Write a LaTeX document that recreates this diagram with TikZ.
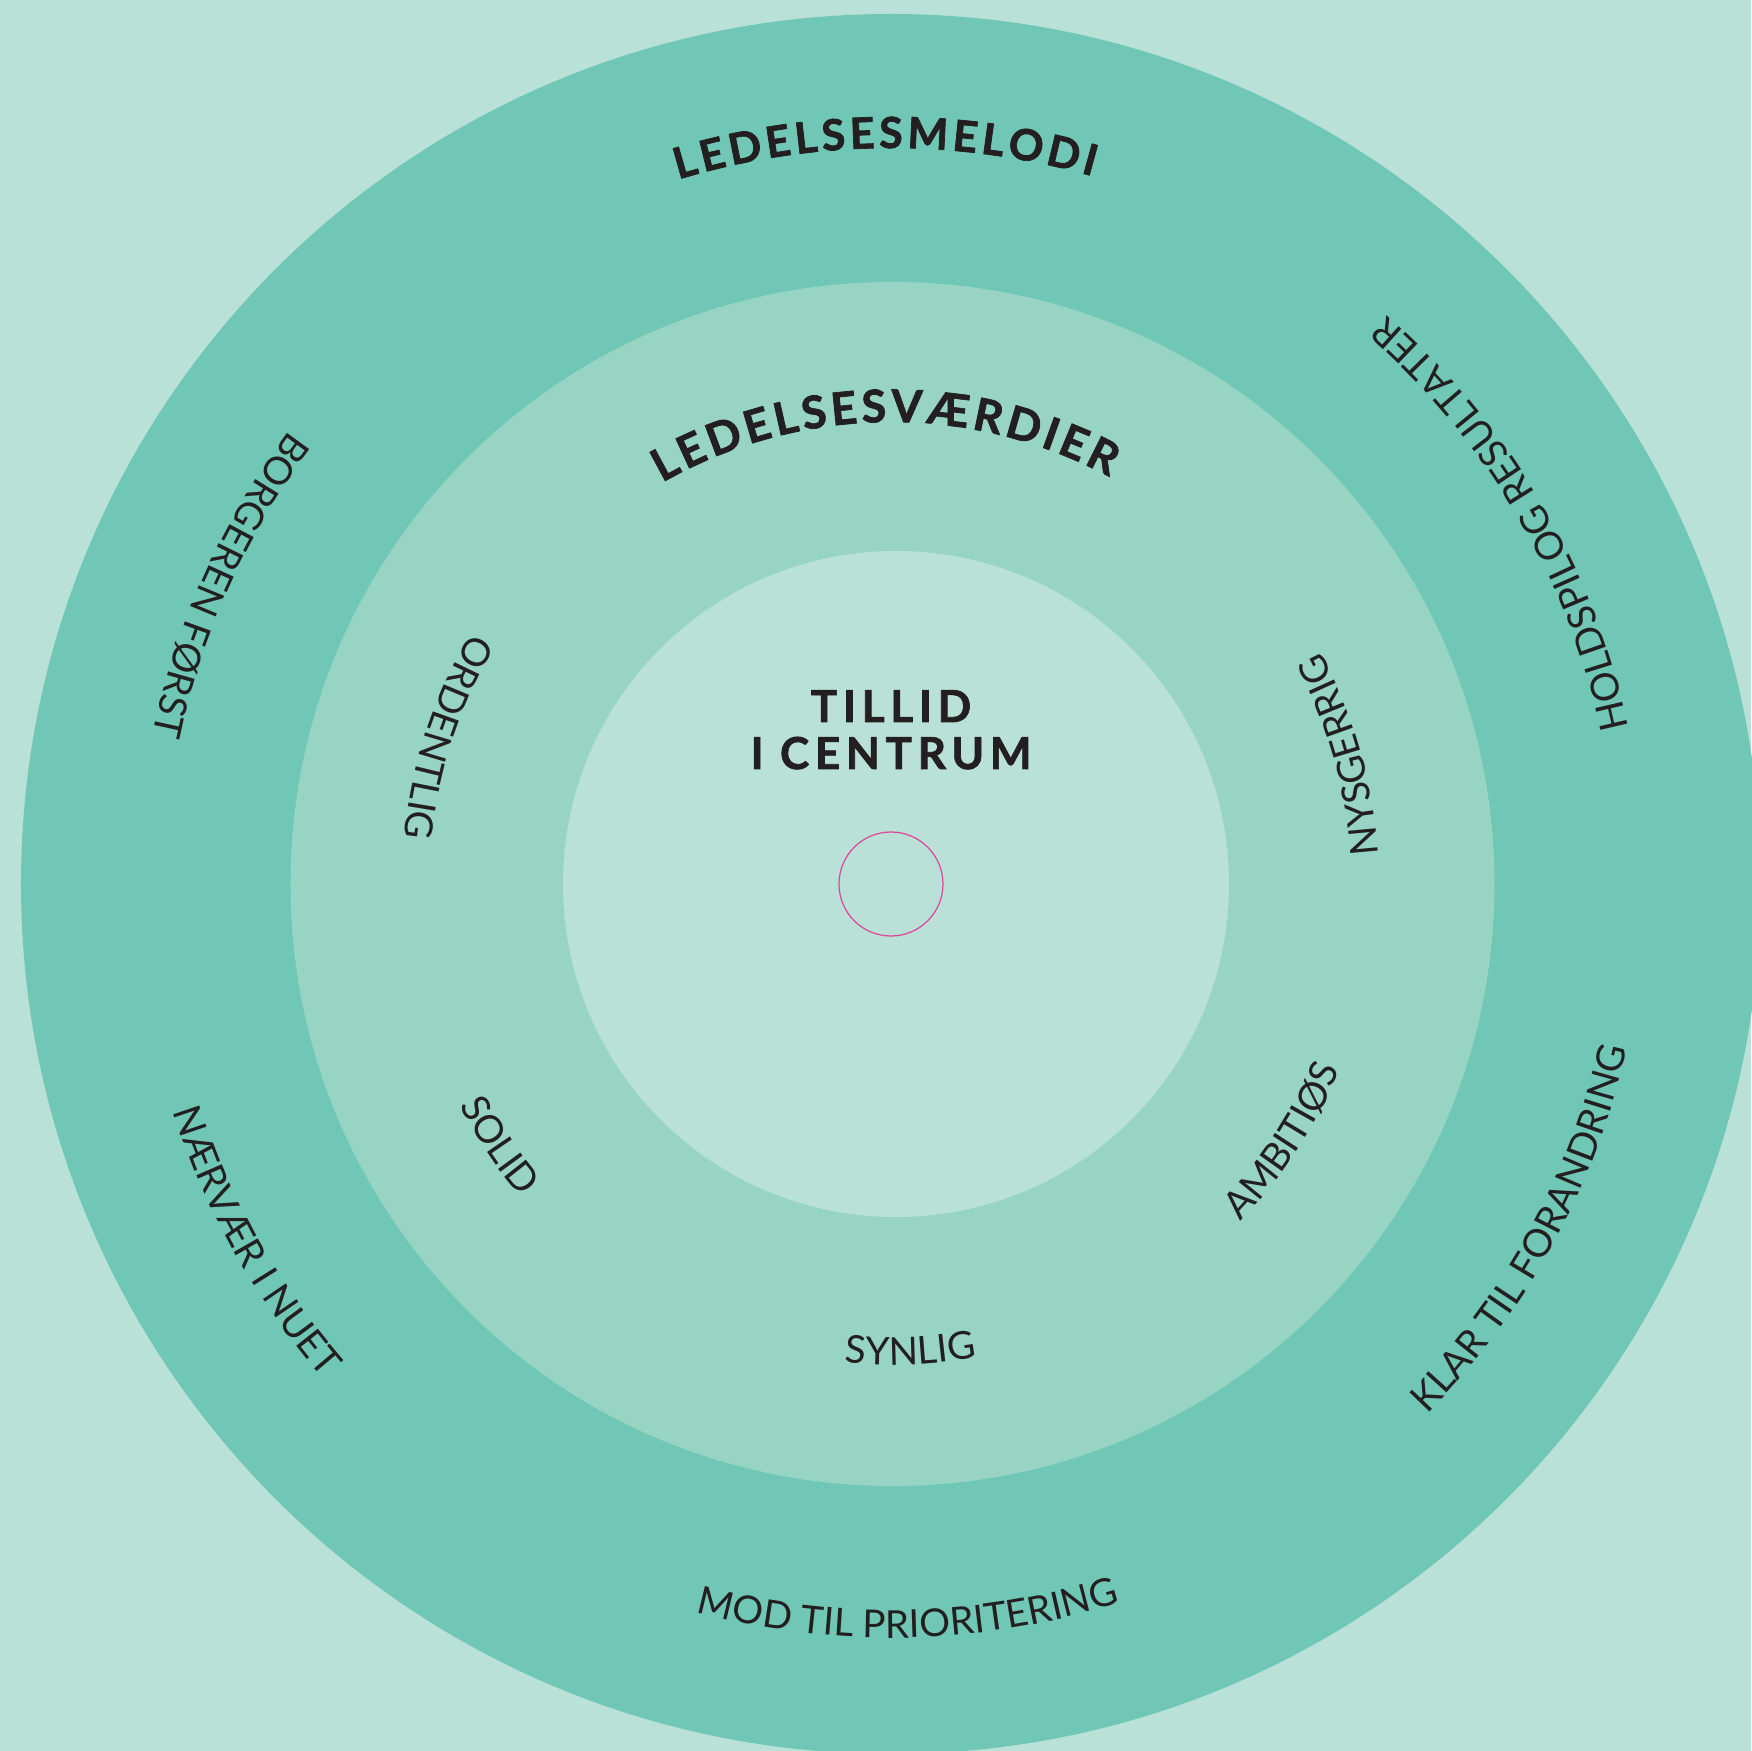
\documentclass[tikz,border=0pt]{standalone}
\usepackage{fontspec}
\setmainfont{Lato}
\newfontfamily\mlHeavyFam{Lato}[FakeBold=1.6]
\usetikzlibrary{decorations.text}
\definecolor{bgc}{HTML}{B9E1D7}
\definecolor{ringout}{HTML}{70C7B5}
\definecolor{ringmid}{HTML}{97D4C4}
\definecolor{innerc}{HTML}{B9E1D7}
\definecolor{ink}{HTML}{231F20}
\definecolor{pinkc}{HTML}{E0449A}
\newcommand\mlReg{\fontsize{38.5}{42}\selectfont\color{ink}}
\newcommand\mlTitleA{\fontsize{43}{47}\selectfont\mlHeavyFam\bfseries\color{ink}}
\newcommand\mlTitleB{\fontsize{45}{49}\selectfont\mlHeavyFam\bfseries\color{ink}}
\begin{document}
\begin{tikzpicture}[x=1pt,y=1pt,
  ringtext/.style={decorate, decoration={text along path, text align=center, text={|\mlReg|#1}}},
  titleA/.style={decorate, decoration={text along path, text align=fit to path, text={|\mlTitleA|#1}}},
  titleB/.style={decorate, decoration={text along path, text align=fit to path, text={|\mlTitleB|#1}}},
  centertext/.style={anchor=base, inner sep=0pt, text=ink,
     font=\fontsize{44}{48}\selectfont\mlHeavyFam\bfseries\addfontfeatures{LetterSpace=13}}]
\useasboundingbox (-891,-867) rectangle (860,884);
\fill[bgc] (-891,-867) rectangle (860,884);
\fill[ringout] (0,0) circle[radius=870];
\fill[ringmid] (1.5,0) circle[radius=602];
\fill[innerc] (5,0) circle[radius=333];
\draw[pinkc, line width=1.2pt] (0,0) circle[radius=52];

% titles (clockwise, tops outward)
\path[titleA={LEDELSESMELODI}] (106.8:736) arc[start angle=106.8, end angle=74.1, radius=736];
\path[titleB={LEDELSESVÆRDIER}] (119.7:462) arc[start angle=119.7, end angle=61.8, radius=462];

% outer ring texts (counterclockwise, tops inward)
\path[ringtext={HOLDSPILOG RESULTATER}] (-9.55:754) arc[start angle=-9.55, end angle=70.45, radius=754];
\path[ringtext={BORGEREN FØRST}] (115.75:753) arc[start angle=115.75, end angle=195.75, radius=753];
\path[ringtext={NÆRVÆR I NUET}] (169.3:753) arc[start angle=169.3, end angle=249.3, radius=753];
\path[ringtext={MOD TIL PRIORITERING}] (-128.65:754) arc[start angle=-128.65, end angle=-48.65, radius=754];
\path[ringtext={KLAR TIL FORANDRING}] (-68.65:754) arc[start angle=-68.65, end angle=11.35, radius=754];

% middle ring texts
\path[ringtext={NYSGERRIG}] (-24.05:488) arc[start angle=-24.05, end angle=55.95, radius=488];
\path[ringtext={ORDENTLIG}] (121.85:489) arc[start angle=121.85, end angle=201.85, radius=489];
\path[ringtext={SOLID}] (173.7:485) arc[start angle=173.7, end angle=253.7, radius=485];
\path[ringtext={SYNLIG}] (-127.6:481) arc[start angle=-127.6, end angle=-47.6, radius=481];
\path[ringtext={AMBITIØS}] (-73.25:486) arc[start angle=-73.25, end angle=6.75, radius=486];

% centre
\node[centertext] (tillid) at (0,162) {TILLID};
\node[centertext] (centrum) at (0,115) {I CENTRUM};
\end{tikzpicture}
\end{document}
